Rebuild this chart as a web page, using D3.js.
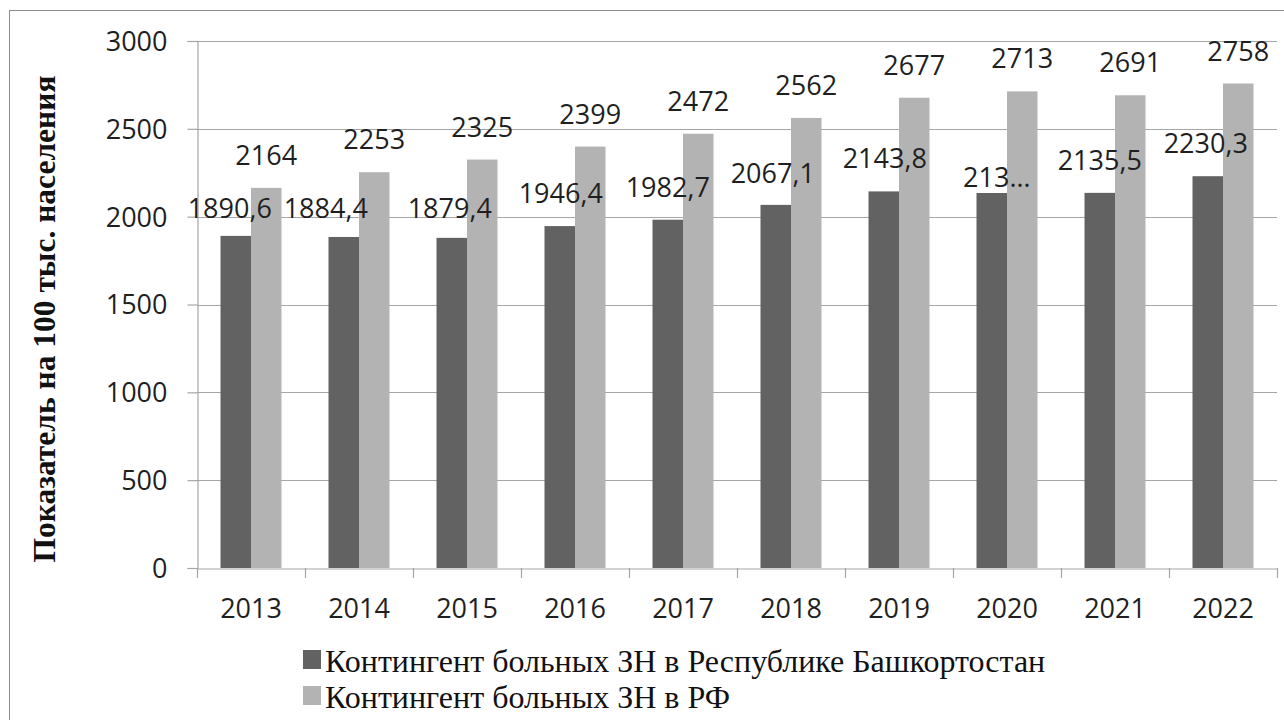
<!DOCTYPE html>
<html>
<head>
<meta charset="utf-8">
<script src="https://cdn.jsdelivr.net/npm/d3@7"></script>
<style>
  html, body { margin: 0; padding: 0; background: #fff; }
  svg { display: block; }
</style>
</head>
<body>
<svg id="chart" width="1284" height="720"></svg>
<script>
// ---------- data ----------
const years = ["2013","2014","2015","2016","2017","2018","2019","2020","2021","2022"];
const bashkortostan = [1890.6, 1884.4, 1879.4, 1946.4, 1982.7, 2067.1, 2143.8, 2134.7, 2135.5, 2230.3];
const russia = [2164, 2253, 2325, 2399, 2472, 2562, 2677, 2713, 2691, 2758];
const bashkortostanLabels = ["1890,6","1884,4","1879,4","1946,4","1982,7","2067,1","2143,8","213…","2135,5","2230,3"];
const russiaLabels = ["2164","2253","2325","2399","2472","2562","2677","2713","2691","2758"];
const seriesNames = ["Контингент больных ЗН в Республике Башкортостан", "Контингент больных ЗН в РФ"];
const yTicks = [0, 500, 1000, 1500, 2000, 2500, 3000];
const yTitle = "Показатель на 100 тыс. населения";

// ---------- layout ----------
const colors = ["#626262", "#b3b3b3"];
const plot = { left: 197, right: 1277, top: 41, bottom: 568 };
// manual nudges of the Bashkortostan labels (as in the original layout)
const darkLabelNudge = [[-6,5],[-18,4],[-2,3],[1,0],[0,0],[-3,1],[1,0],[5,17],[0,0],[-2,0]];

const svg = d3.select("#chart");

// outer chart border
svg.append("rect")
  .attr("x", 9.5).attr("y", 10.5)
  .attr("width", 1400).attr("height", 900)
  .attr("fill", "none").attr("stroke", "#8c8c8c").attr("stroke-width", 1);

const x = d3.scaleBand().domain(years)
  .range([plot.left, plot.right])
  .paddingInner(47/108).paddingOuter(47/216);
const xs = d3.scaleBand().domain([0,1]).range([0, x.bandwidth()]);
const y = d3.scaleLinear().domain([0, 3000]).range([plot.bottom, plot.top]);

// gridlines
svg.append("g")
  .selectAll("line").data(yTicks.filter(d => d > 0)).join("line")
  .attr("x1", plot.left).attr("x2", plot.right)
  .attr("y1", d => Math.round(y(d)) + 0.5).attr("y2", d => Math.round(y(d)) + 0.5)
  .attr("stroke", "#a6a6a6").attr("stroke-width", 1.2);

// y axis
const yAxis = svg.append("g")
  .attr("transform", `translate(${plot.left + 0.5},0)`)
  .call(d3.axisLeft(y).tickValues(yTicks).tickSize(10).tickPadding(20).tickFormat(d3.format("d")));
yAxis.select(".domain").attr("stroke", "#a6a6a6").attr("stroke-width", 1.2);
yAxis.selectAll(".tick line").attr("stroke", "#a6a6a6").attr("stroke-width", 1.2);
yAxis.selectAll(".tick text")
  .attr("font-family", "'Open Sans', sans-serif").attr("font-size", 27)
  .attr("fill", "#1f1f1f").attr("dy", "0.35em");

// bars
const groups = svg.append("g").selectAll("g").data(years).join("g")
  .attr("transform", d => `translate(${x(d)},0)`);

const seriesVals = [bashkortostan, russia];
groups.each(function(yr, i) {
  const g = d3.select(this);
  [0,1].forEach(s => {
    const v = seriesVals[s][i];
    g.append("rect")
      .attr("x", xs(s)).attr("width", xs.bandwidth())
      .attr("y", y(v)).attr("height", y(0) - y(v))
      .attr("fill", colors[s]);
  });
});

// x axis
const xAxis = svg.append("g")
  .attr("transform", `translate(0,${plot.bottom + 0.5})`)
  .call(d3.axisBottom(x).tickSize(0).tickPadding(30));
xAxis.select(".domain").attr("stroke", "#a6a6a6").attr("stroke-width", 1.2);
xAxis.selectAll(".tick text")
  .attr("font-family", "'Open Sans', sans-serif").attr("font-size", 27)
  .attr("fill", "#1f1f1f");
// category separator ticks
const bounds = years.map(d => x(d) - x.step() * x.paddingInner() / 2);
bounds.push(plot.right);
svg.append("g").selectAll("line").data(bounds).join("line")
  .attr("x1", d => Math.round(d) + 0.5).attr("x2", d => Math.round(d) + 0.5)
  .attr("y1", plot.bottom).attr("y2", plot.bottom + 10)
  .attr("stroke", "#a6a6a6").attr("stroke-width", 1.2);

// data labels
const labelFont = { family: "'Open Sans', sans-serif", size: 27 };
svg.append("g").selectAll("text").data(years).join("text")
  .attr("x", (d, i) => x(d) + xs(1) + xs.bandwidth() / 2)
  .attr("y", (d, i) => y(russia[i]) - 23)
  .attr("text-anchor", "middle")
  .attr("font-family", labelFont.family).attr("font-size", labelFont.size)
  .attr("fill", "#1f1f1f")
  .text((d, i) => russiaLabels[i]);

svg.append("g").selectAll("text").data(years).join("text")
  .attr("x", (d, i) => x(d) + xs(0) + xs.bandwidth() / 2 + darkLabelNudge[i][0])
  .attr("y", (d, i) => y(bashkortostan[i]) - 23 + darkLabelNudge[i][1])
  .attr("text-anchor", "middle")
  .attr("font-family", labelFont.family).attr("font-size", labelFont.size)
  .attr("fill", "#1f1f1f")
  .text((d, i) => bashkortostanLabels[i]);

// y axis title
svg.append("text")
  .attr("transform", "translate(55,319) rotate(-90)")
  .attr("text-anchor", "middle")
  .attr("font-family", "'Liberation Serif', 'Times New Roman', serif")
  .attr("font-weight", "bold").attr("font-size", 31.5)
  .attr("fill", "#111")
  .text(yTitle);

// legend
const legend = svg.append("g").attr("transform", "translate(303,0)");
const legendRows = [672, 708];
seriesNames.forEach((name, i) => {
  legend.append("rect")
    .attr("x", 0).attr("y", legendRows[i] - 22)
    .attr("width", 18).attr("height", 19)
    .attr("fill", colors[i]);
  legend.append("text")
    .attr("x", 22).attr("y", legendRows[i])
    .attr("font-family", "'Liberation Serif', 'Times New Roman', serif")
    .attr("font-size", 32).attr("fill", "#111")
    .text(name);
});
</script>
</body>
</html>
